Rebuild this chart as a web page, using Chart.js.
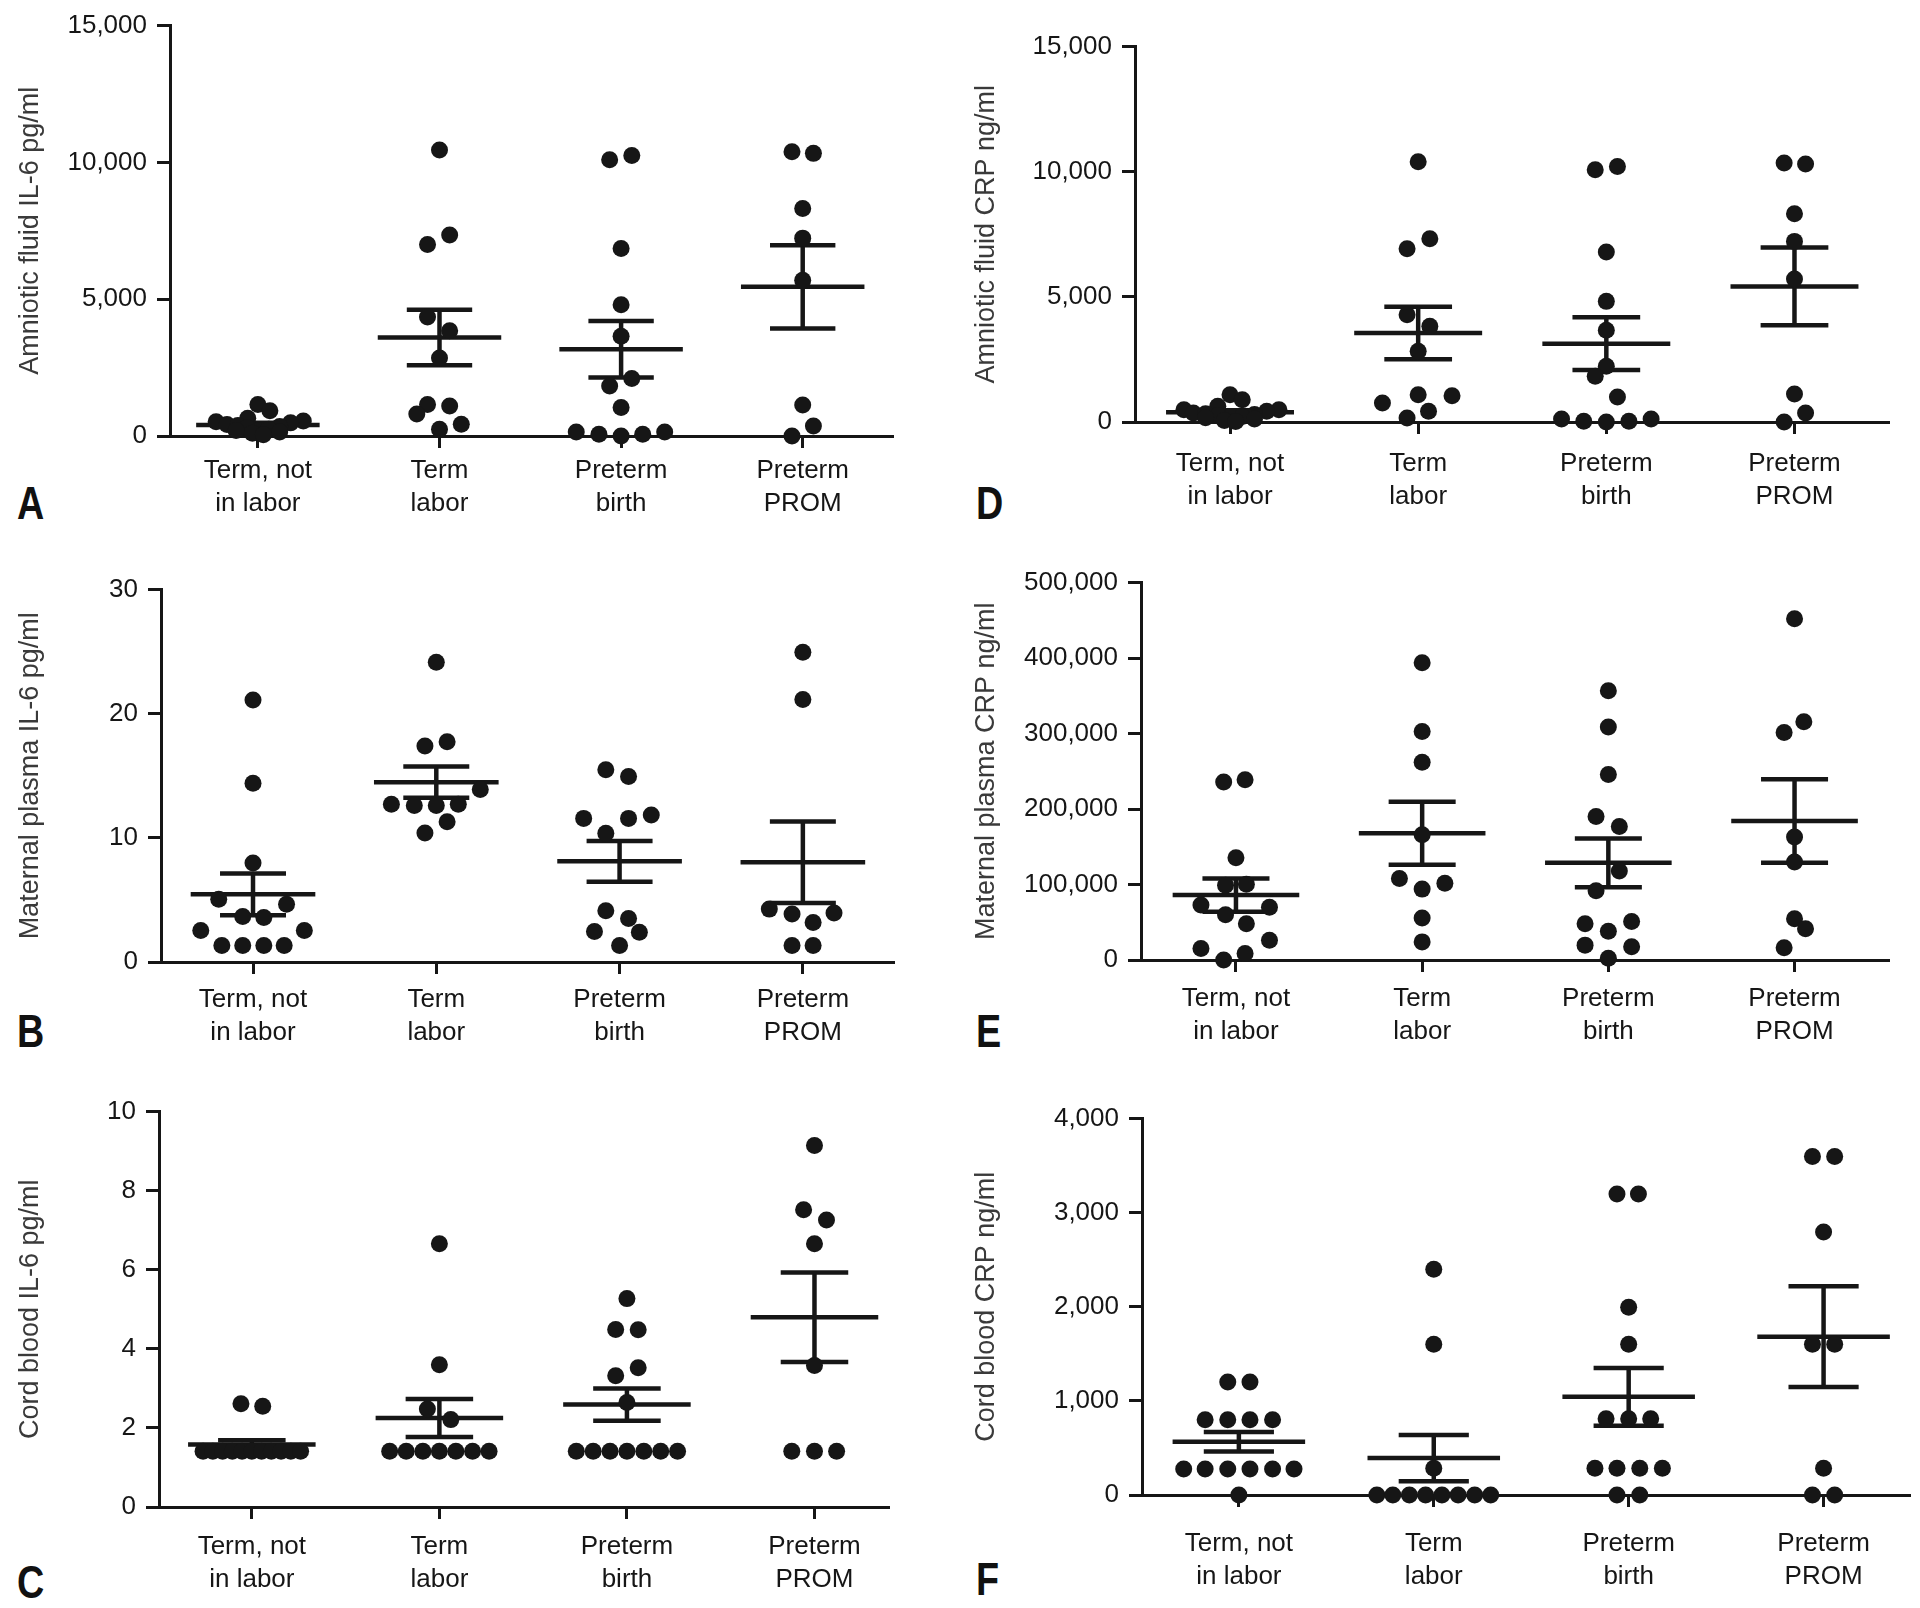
<!DOCTYPE html>
<html>
<head>
<meta charset="utf-8">
<script src="https://cdn.jsdelivr.net/npm/chart.js@4.4.1/dist/chart.umd.min.js"></script>
<style>
html, body { margin: 0; padding: 0; background: #fff; }
body { width: 1920px; height: 1608px; position: relative; overflow: hidden; }
.panel { position: absolute; }
.letter { position: absolute; font-family: "Liberation Sans", Arial, sans-serif;
  font-weight: bold; font-size: 46px; line-height: 46px; color: #111;
  transform: scaleX(0.82); transform-origin: left top; }
</style>
</head>
<body>
<div class="letter" style="left:17px;top:480px">A</div>
<div class="letter" style="left:976px;top:480px">D</div>
<div class="letter" style="left:17px;top:1008px">B</div>
<div class="letter" style="left:976px;top:1008px">E</div>
<div class="letter" style="left:17px;top:1559px">C</div>
<div class="letter" style="left:976px;top:1556px">F</div>

<script>
// groups on the x axis
const categories = [['Term, not', 'in labor'], ['Term', 'labor'], ['Preterm', 'birth'], ['Preterm', 'PROM']];

// A - amniotic fluid IL-6 (pg/ml)
const afIL6 = [
    [1150, 920, 650, 520, 550, 480, 420, 380, 350, 300, 250, 200, 150, 100, 50],
    [10450, 7350, 7000, 4350, 3850, 2850, 1150, 1100, 800, 430, 250],
    [10100, 10250, 6850, 4800, 3650, 2100, 1830, 1040, 150, 60, 0, 60, 150],
    [10390, 10330, 8317, 7232, 5695, 1134, 366, 0]
];
const afIL6Jitter = [
    [0, 0.066, -0.056, -0.23, 0.25, 0.18, -0.17, -0.11, 0.12, -0.06, 0.06, -0.12, 0.12, -0.03, 0.03],
    [0, 0.056, -0.066, -0.066, 0.056, 0, -0.066, 0.056, -0.125, 0.12, 0],
    [-0.063, 0.059, 0, 0, 0, 0.059, -0.063, 0, -0.247, -0.122, 0, 0.119, 0.24],
    [-0.059, 0.059, 0, 0, 0, 0, 0.059, -0.059]
];
const afIL6Mean = [400, 3600, 3170, 5451];
const afIL6Sem = [85, 1010, 1036, 1525];

// D - amniotic fluid CRP (ng/ml)
const afCRP = [
    [1090, 890, 630, 490, 490, 430, 360, 330, 300, 260, 220, 170, 120, 60, 20],
    [10399, 7323, 6924, 4288, 3822, 2823, 1092, 1052, 759, 426, 160],
    [10080, 10213, 6791, 4820, 3662, 2224, 1824, 999, 120, 27, 0, 27, 120],
    [10346, 10306, 8322, 7217, 5712, 1118, 360, 0]
];
const afCRPJitter = [
    [0, 0.065, -0.065, -0.245, 0.26, 0.195, -0.195, -0.13, 0.13, -0.065, 0.065, -0.13, 0.13, -0.03, 0.03],
    [0, 0.062, -0.059, -0.059, 0.062, 0, 0, 0.18, -0.19, 0.055, -0.059],
    [-0.059, 0.059, 0, 0, 0, 0, -0.059, 0.059, -0.238, -0.12, 0, 0.12, 0.238],
    [-0.055, 0.059, 0, 0, 0, 0, 0.059, -0.055]
];
const afCRPMean = [386, 3555, 3129, 5419];
const afCRPSem = [80, 1050, 1052, 1551];

// B - maternal plasma IL-6 (pg/ml)
const mpIL6 = [
    [21.1, 14.4, 7.98, 5.05, 4.65, 3.67, 3.59, 2.53, 2.53, 1.33, 1.33, 1.33, 1.33],
    [24.15, 17.4, 17.74, 13.9, 12.7, 12.6, 12.6, 12.7, 11.3, 10.4],
    [15.48, 14.95, 11.57, 11.57, 11.84, 10.37, 4.12, 3.51, 2.45, 2.39, 1.33],
    [24.95, 21.14, 4.26, 3.86, 3.94, 3.19, 1.33, 1.33]
];
const mpIL6Jitter = [
    [0, 0, 0, -0.187, 0.183, -0.056, 0.059, -0.285, 0.28, -0.17, -0.056, 0.059, 0.17],
    [0, -0.062, 0.059, 0.24, -0.245, -0.12, 0, 0.12, 0.059, -0.062],
    [-0.075, 0.049, -0.196, 0.049, 0.173, -0.075, -0.075, 0.049, -0.137, 0.108, 0],
    [0, 0, -0.183, -0.059, 0.17, 0.056, -0.059, 0.056]
];
const mpIL6Mean = [5.45, 14.49, 8.11, 8.03];
const mpIL6Sem = [1.68, 1.26, 1.64, 3.28];

// E - maternal plasma CRP (ng/ml)
const mpCRP = [
    [235800, 238900, 135400, 99100, 100400, 72900, 69900, 59800, 48000, 26200, 15300, 8700, 0],
    [393900, 302600, 262000, 166000, 107900, 101700, 93900, 55500, 24000],
    [356800, 308700, 245900, 190000, 176900, 117900, 91700, 48000, 51100, 38000, 19700, 17500, 2200],
    [452000, 315700, 301300, 162900, 129700, 54600, 41500, 16200]
];
const mpCRPJitter = [
    [-0.066, 0.049, 0, -0.056, 0.056, -0.188, 0.18, -0.056, 0.056, 0.18, -0.188, 0.049, -0.066],
    [0, 0, 0, 0, -0.122, 0.122, 0, 0, 0],
    [0, 0, 0, -0.066, 0.059, 0.059, -0.066, -0.125, 0.125, 0, -0.125, 0.125, 0],
    [0, 0.05, -0.056, 0, 0, 0, 0.059, -0.056]
];
const mpCRPMean = [86000, 168000, 128800, 184300];
const mpCRPSem = [22000, 41800, 32300, 55300];

// C - cord blood IL-6 (pg/ml)
const cbIL6 = [
    [2.61, 2.55, 1.41, 1.41, 1.41, 1.41, 1.41, 1.41, 1.41, 1.41, 1.41, 1.41, 1.41],
    [6.66, 3.6, 2.48, 2.21, 1.41, 1.41, 1.41, 1.41, 1.41, 1.41, 1.41],
    [5.27, 4.49, 4.48, 3.52, 3.32, 2.64, 1.41, 1.41, 1.41, 1.41, 1.41, 1.41, 1.41],
    [9.14, 7.52, 7.26, 6.66, 3.58, 1.41, 1.41, 1.41]
];
const cbIL6Jitter = [
    [-0.058, 0.058, -0.26, -0.208, -0.156, -0.104, -0.052, 0, 0.052, 0.104, 0.156, 0.208, 0.26],
    [0, 0, -0.064, 0.061, -0.265, -0.177, -0.088, 0, 0.088, 0.177, 0.265],
    [0, -0.06, 0.06, 0.06, -0.06, 0, -0.27, -0.18, -0.09, 0, 0.09, 0.18, 0.27],
    [0, -0.058, 0.064, 0, 0, -0.121, 0, 0.118]
];
const cbIL6Mean = [1.58, 2.25, 2.59, 4.80];
const cbIL6Sem = [0.11, 0.48, 0.41, 1.13];

// F - cord blood CRP (ng/ml)
const cbCRP = [
    [1201, 1201, 799, 799, 799, 799, 277, 277, 277, 277, 277, 277, 0],
    [2399, 1601, 284, 0, 0, 0, 0, 0, 0, 0, 0],
    [3198, 3198, 1996, 1601, 809, 809, 809, 284, 284, 284, 284, 0, 0],
    [3597, 3597, 2795, 1601, 1601, 284, 0, 0]
];
const cbCRPJitter = [
    [-0.057, 0.057, -0.173, -0.057, 0.057, 0.173, -0.283, -0.173, -0.057, 0.057, 0.173, 0.283, 0],
    [0, 0, 0, -0.292, -0.21, -0.125, -0.042, 0.042, 0.125, 0.21, 0.292],
    [-0.06, 0.05, 0, 0, -0.116, 0, 0.113, -0.173, -0.06, 0.057, 0.173, -0.06, 0.057],
    [-0.057, 0.057, 0, -0.057, 0.057, 0, -0.057, 0.057]
];
const cbCRPMean = [565, 392, 1043, 1683];
const cbCRPSem = [104, 246, 306, 536];

// panel layout (pixels of the page) and axis ranges
const panels = [
    { title: 'Amniotic fluid IL-6 pg/ml', vals: afIL6, jit: afIL6Jitter, mean: afIL6Mean, sem: afIL6Sem,
      col: 0, plotLeft: 170, plotRight: 894, plotTop: 20, plotBottom: 436, xmin: 0.516, xmax: 4.5, ymax: 15000, step: 5000, labelPad: 7 },
    { title: 'Amniotic fluid CRP ng/ml', vals: afCRP, jit: afCRPJitter, mean: afCRPMean, sem: afCRPSem,
      col: 1, plotLeft: 1135, plotRight: 1890, plotTop: 41, plotBottom: 422, xmin: 0.495, xmax: 4.505, ymax: 15000, step: 5000, labelPad: 14 },
    { title: 'Maternal plasma IL-6 pg/ml', vals: mpIL6, jit: mpIL6Jitter, mean: mpIL6Mean, sem: mpIL6Sem,
      col: 0, plotLeft: 161, plotRight: 895, plotTop: 584, plotBottom: 962, xmin: 0.498, xmax: 4.5, ymax: 30, step: 10, labelPad: 10 },
    { title: 'Maternal plasma CRP ng/ml', vals: mpCRP, jit: mpCRPJitter, mean: mpCRPMean, sem: mpCRPSem,
      col: 1, plotLeft: 1141, plotRight: 1890, plotTop: 577, plotBottom: 960, xmin: 0.49, xmax: 4.51, ymax: 500000, step: 100000, labelPad: 11 },
    { title: 'Cord blood IL-6 pg/ml', vals: cbIL6, jit: cbIL6Jitter, mean: cbIL6Mean, sem: cbIL6Sem,
      col: 0, plotLeft: 159, plotRight: 890, plotTop: 1106, plotBottom: 1507, xmin: 0.505, xmax: 4.4, ymax: 10, step: 2, labelPad: 12 },
    { title: 'Cord blood CRP ng/ml', vals: cbCRP, jit: cbCRPJitter, mean: cbCRPMean, sem: cbCRPSem,
      col: 1, plotLeft: 1142, plotRight: 1911, plotTop: 1113, plotBottom: 1495, xmin: 0.503, xmax: 4.446, ymax: 4000, step: 1000, labelPad: 21 }
];

const INK = '#161616';
const MEAN_HALF = 0.34, CAP_HALF = 0.18;

Chart.defaults.font.family = '"Liberation Sans", Arial, sans-serif';
Chart.defaults.color = INK;

function segment(x1, y1, x2, y2) {
    return {
        data: [{ x: x1, y: y1 }, { x: x2, y: y2 }],
        showLine: true, borderColor: INK, borderWidth: 4.5, pointRadius: 0,
        borderCapStyle: 'butt', clip: false
    };
}

function makePanel(p) {
    const left = p.col === 0 ? 0 : 960;
    const padTop = 20, padRight = 8, xAxisH = 100;
    const top = p.plotTop - padTop;
    const width = p.plotRight + padRight - left;
    const height = p.plotBottom + xAxisH - top;

    const wrap = document.createElement('div');
    wrap.className = 'panel';
    wrap.style.left = left + 'px';
    wrap.style.top = top + 'px';
    wrap.style.width = width + 'px';
    wrap.style.height = height + 'px';
    const cv = document.createElement('canvas');
    cv.width = width;
    cv.height = height;
    cv.style.width = width + 'px';
    cv.style.height = height + 'px';
    wrap.appendChild(cv);
    document.body.appendChild(wrap);

    const points = [];
    p.vals.forEach((grp, g) => {
        grp.forEach((v, j) => points.push({ x: g + 1 + p.jit[g][j], y: v }));
    });

    const datasets = [{
        data: points, pointRadius: 8.5, pointHoverRadius: 8.5,
        backgroundColor: INK, borderWidth: 0, clip: false
    }];
    p.mean.forEach((m, g) => {
        const c = g + 1, s = p.sem[g];
        datasets.push(segment(c - MEAN_HALF, m, c + MEAN_HALF, m));
        datasets.push(segment(c - CAP_HALF, m + s, c + CAP_HALF, m + s));
        datasets.push(segment(c - CAP_HALF, m - s, c + CAP_HALF, m - s));
        datasets.push(segment(c, m - s, c, m + s));
    });

    new Chart(cv, {
        type: 'scatter',
        data: { datasets },
        options: {
            responsive: false,
            animation: false,
            events: [],
            layout: { padding: { top: padTop, right: padRight, left: 0, bottom: 0 } },
            plugins: { legend: { display: false }, tooltip: { enabled: false } },
            scales: {
                x: {
                    type: 'linear', min: p.xmin, max: p.xmax,
                    afterBuildTicks: s => { s.ticks = [1, 2, 3, 4].map(v => ({ value: v })); },
                    afterFit: s => { s.height = xAxisH; },
                    ticks: {
                        callback: v => categories[Math.round(v) - 1],
                        font: { size: 26, lineHeight: 1.25 }, color: INK,
                        padding: p.labelPad, maxRotation: 0, autoSkip: false
                    },
                    grid: { display: true, drawOnChartArea: false, drawTicks: true, tickLength: 12, tickWidth: 3, tickColor: INK },
                    border: { display: true, width: 3, color: INK }
                },
                y: {
                    min: 0, max: p.ymax,
                    afterFit: s => { s.width = p.plotLeft - left; },
                    ticks: {
                        stepSize: p.step, font: { size: 26 }, color: INK, padding: 10,
                        callback: v => v.toLocaleString('en-US')
                    },
                    title: {
                        display: true, text: p.title, color: '#3a3a3a',
                        font: { size: 27 }, padding: { top: p.col === 0 ? 14 : 10, bottom: 0 }
                    },
                    grid: { display: true, drawOnChartArea: false, drawTicks: true, tickLength: 13, tickWidth: 3, tickColor: INK },
                    border: { display: true, width: 3, color: INK }
                }
            }
        }
    });
}

panels.forEach(makePanel);
</script>
</body>
</html>
